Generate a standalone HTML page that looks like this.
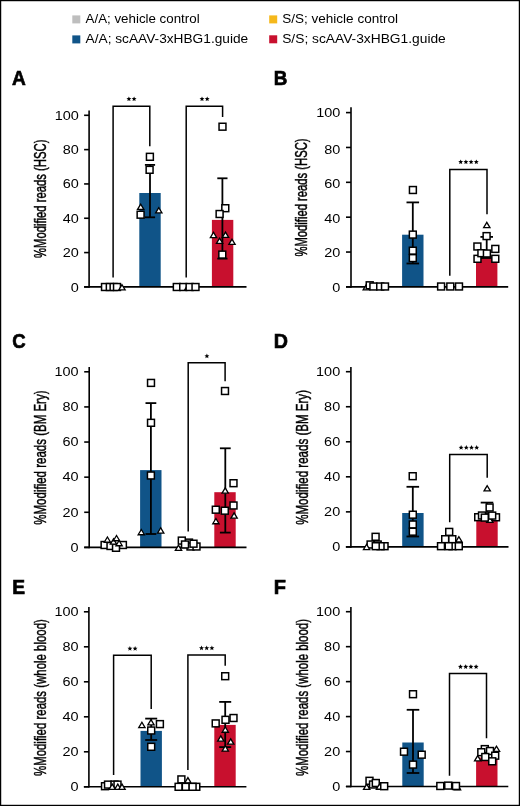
<!DOCTYPE html>
<html><head><meta charset="utf-8"><style>
html,body{margin:0;padding:0;background:#fff;}
#wrap{position:relative;width:520px;height:806px;overflow:hidden;background:#fff;}
#wrap svg{position:absolute;left:0;top:0;will-change:transform;}
</style></head><body><div id="wrap">
<svg width="520" height="806" viewBox="0 0 520 806">
<text x="12" y="84.8" font-family='"Liberation Sans", sans-serif' font-weight="bold" font-size="21" stroke="#000" stroke-width="0.7" textLength="13.8" lengthAdjust="spacingAndGlyphs">A</text>
<text transform="translate(45.9,258) rotate(-90)" font-family='"Liberation Sans", sans-serif' font-size="15.6" stroke="#000" stroke-width="0.45" style="font-variant-ligatures:none" textLength="118.4" lengthAdjust="spacingAndGlyphs">%Modified reads (HSC)</text>
<line x1="84.1" y1="286.9" x2="89.1" y2="286.9" stroke="#000" stroke-width="1.6"/>
<text x="70.75" y="291.55" font-family='"Liberation Sans", sans-serif' font-size="13.4" textLength="8.05" lengthAdjust="spacingAndGlyphs">0</text>
<line x1="84.1" y1="252.58" x2="89.1" y2="252.58" stroke="#000" stroke-width="1.6"/>
<text x="62.71" y="257.35" font-family='"Liberation Sans", sans-serif' font-size="13.4" textLength="16.09" lengthAdjust="spacingAndGlyphs">20</text>
<line x1="84.1" y1="218.26" x2="89.1" y2="218.26" stroke="#000" stroke-width="1.6"/>
<text x="62.71" y="222.95" font-family='"Liberation Sans", sans-serif' font-size="13.4" textLength="16.09" lengthAdjust="spacingAndGlyphs">40</text>
<line x1="84.1" y1="183.94" x2="89.1" y2="183.94" stroke="#000" stroke-width="1.6"/>
<text x="62.71" y="188.35" font-family='"Liberation Sans", sans-serif' font-size="13.4" textLength="16.09" lengthAdjust="spacingAndGlyphs">60</text>
<line x1="84.1" y1="149.62" x2="89.1" y2="149.62" stroke="#000" stroke-width="1.6"/>
<text x="62.71" y="154.15" font-family='"Liberation Sans", sans-serif' font-size="13.4" textLength="16.09" lengthAdjust="spacingAndGlyphs">80</text>
<line x1="84.1" y1="115.3" x2="89.1" y2="115.3" stroke="#000" stroke-width="1.6"/>
<text x="54.66" y="119.55" font-family='"Liberation Sans", sans-serif' font-size="13.4" textLength="24.14" lengthAdjust="spacingAndGlyphs">100</text>
<rect x="139.3" y="193" width="21.4" height="93.9" fill="#105488"/>
<rect x="211.9" y="219.9" width="21.4" height="67" fill="#C8102E"/>
<line x1="89.1" y1="110.4" x2="89.1" y2="287.7" stroke="#000" stroke-width="1.6"/>
<line x1="84.1" y1="286.9" x2="246.5" y2="286.9" stroke="#000" stroke-width="1.6"/>
<polyline points="113.1,277.5 113.1,106.2 149.8,106.2 149.8,146.2" fill="none" stroke="#000" stroke-width="1.5" stroke-linejoin="miter" stroke-linecap="butt"/>
<polygon points="128.9,96.4 129.59,98.05 131.37,98.2 130.01,99.36 130.43,101.1 128.9,100.17 127.37,101.1 127.79,99.36 126.43,98.2 128.21,98.05" fill="#000"/><polygon points="134.1,96.4 134.79,98.05 136.57,98.2 135.21,99.36 135.63,101.1 134.1,100.17 132.57,101.1 132.99,99.36 131.63,98.2 133.41,98.05" fill="#000"/>
<polyline points="186.2,277.5 186.2,106.2 222.6,106.2 222.6,116.9" fill="none" stroke="#000" stroke-width="1.5" stroke-linejoin="miter" stroke-linecap="butt"/>
<polygon points="202,96.4 202.69,98.05 204.47,98.2 203.11,99.36 203.53,101.1 202,100.17 200.47,101.1 200.89,99.36 199.53,98.2 201.31,98.05" fill="#000"/><polygon points="207.2,96.4 207.89,98.05 209.67,98.2 208.31,99.36 208.73,101.1 207.2,100.17 205.67,101.1 206.09,99.36 204.73,98.2 206.51,98.05" fill="#000"/>
<line x1="150" y1="164.9" x2="150" y2="217.3" stroke="#000" stroke-width="1.8"/>
<line x1="144.9" y1="164.9" x2="155.1" y2="164.9" stroke="#000" stroke-width="1.8"/>
<line x1="144.9" y1="217.3" x2="155.1" y2="217.3" stroke="#000" stroke-width="1.8"/>
<line x1="222.4" y1="178.3" x2="222.4" y2="258.6" stroke="#000" stroke-width="1.8"/>
<line x1="217.3" y1="178.3" x2="227.5" y2="178.3" stroke="#000" stroke-width="1.8"/>
<line x1="217.3" y1="258.6" x2="227.5" y2="258.6" stroke="#000" stroke-width="1.8"/>
<rect x="101.55" y="283.55" width="6.9" height="6.9" fill="#fff" stroke="#000" stroke-width="1.5"/>
<polygon points="113.5,284.69 110.35,289.95 116.65,289.95" fill="#fff" stroke="#000" stroke-width="1.3" stroke-linejoin="miter"/>
<rect x="106.35" y="283.55" width="6.9" height="6.9" fill="#fff" stroke="#000" stroke-width="1.5"/>
<polygon points="116.5,284.69 113.35,289.95 119.65,289.95" fill="#fff" stroke="#000" stroke-width="1.3" stroke-linejoin="miter"/>
<rect x="110.15" y="283.55" width="6.9" height="6.9" fill="#fff" stroke="#000" stroke-width="1.5"/>
<rect x="113.55" y="283.55" width="6.9" height="6.9" fill="#fff" stroke="#000" stroke-width="1.5"/>
<polygon points="122,284.69 118.85,289.95 125.15,289.95" fill="#fff" stroke="#000" stroke-width="1.3" stroke-linejoin="miter"/>
<rect x="146.45" y="153.35" width="6.9" height="6.9" fill="#fff" stroke="#000" stroke-width="1.5"/>
<rect x="146.15" y="166.35" width="6.9" height="6.9" fill="#fff" stroke="#000" stroke-width="1.5"/>
<polygon points="140.7,204.19 137.55,209.45 143.85,209.45" fill="#fff" stroke="#000" stroke-width="1.3" stroke-linejoin="miter"/>
<rect x="137.15" y="211.25" width="6.9" height="6.9" fill="#fff" stroke="#000" stroke-width="1.5"/>
<polygon points="158.8,207.69 155.65,212.95 161.95,212.95" fill="#fff" stroke="#000" stroke-width="1.3" stroke-linejoin="miter"/>
<rect x="173.35" y="283.55" width="6.9" height="6.9" fill="#fff" stroke="#000" stroke-width="1.5"/>
<rect x="179.75" y="283.55" width="6.9" height="6.9" fill="#fff" stroke="#000" stroke-width="1.5"/>
<polygon points="188,284.29 184.85,289.55 191.15,289.55" fill="#fff" stroke="#000" stroke-width="1.3" stroke-linejoin="miter"/>
<rect x="186.15" y="283.55" width="6.9" height="6.9" fill="#fff" stroke="#000" stroke-width="1.5"/>
<rect x="192.05" y="283.55" width="6.9" height="6.9" fill="#fff" stroke="#000" stroke-width="1.5"/>
<rect x="219.05" y="123.25" width="6.9" height="6.9" fill="#fff" stroke="#000" stroke-width="1.5"/>
<rect x="221.85" y="204.75" width="6.9" height="6.9" fill="#fff" stroke="#000" stroke-width="1.5"/>
<rect x="216.15" y="210.55" width="6.9" height="6.9" fill="#fff" stroke="#000" stroke-width="1.5"/>
<polygon points="213.5,232.29 210.35,237.55 216.65,237.55" fill="#fff" stroke="#000" stroke-width="1.3" stroke-linejoin="miter"/>
<polygon points="225.5,232.09 222.35,237.35 228.65,237.35" fill="#fff" stroke="#000" stroke-width="1.3" stroke-linejoin="miter"/>
<polygon points="219.6,238.19 216.45,243.45 222.75,243.45" fill="#fff" stroke="#000" stroke-width="1.3" stroke-linejoin="miter"/>
<polygon points="232,239.19 228.85,244.45 235.15,244.45" fill="#fff" stroke="#000" stroke-width="1.3" stroke-linejoin="miter"/>
<rect x="218.85" y="251.15" width="6.9" height="6.9" fill="#fff" stroke="#000" stroke-width="1.5"/>
<text x="273.8" y="84.5" font-family='"Liberation Sans", sans-serif' font-weight="bold" font-size="21" stroke="#000" stroke-width="0.7" textLength="13.6" lengthAdjust="spacingAndGlyphs">B</text>
<text transform="translate(306.8,256.6) rotate(-90)" font-family='"Liberation Sans", sans-serif' font-size="15.6" stroke="#000" stroke-width="0.45" style="font-variant-ligatures:none" textLength="118.2" lengthAdjust="spacingAndGlyphs">%Modified reads (HSC)</text>
<line x1="346" y1="286.9" x2="351" y2="286.9" stroke="#000" stroke-width="1.6"/>
<text x="332.35" y="291.55" font-family='"Liberation Sans", sans-serif' font-size="13.4" textLength="8.05" lengthAdjust="spacingAndGlyphs">0</text>
<line x1="346" y1="252.04" x2="351" y2="252.04" stroke="#000" stroke-width="1.6"/>
<text x="324.31" y="257.25" font-family='"Liberation Sans", sans-serif' font-size="13.4" textLength="16.09" lengthAdjust="spacingAndGlyphs">20</text>
<line x1="346" y1="217.18" x2="351" y2="217.18" stroke="#000" stroke-width="1.6"/>
<text x="324.31" y="222.5" font-family='"Liberation Sans", sans-serif' font-size="13.4" textLength="16.09" lengthAdjust="spacingAndGlyphs">40</text>
<line x1="346" y1="182.32" x2="351" y2="182.32" stroke="#000" stroke-width="1.6"/>
<text x="324.31" y="188.35" font-family='"Liberation Sans", sans-serif' font-size="13.4" textLength="16.09" lengthAdjust="spacingAndGlyphs">60</text>
<line x1="346" y1="147.46" x2="351" y2="147.46" stroke="#000" stroke-width="1.6"/>
<text x="324.31" y="154.15" font-family='"Liberation Sans", sans-serif' font-size="13.4" textLength="16.09" lengthAdjust="spacingAndGlyphs">80</text>
<line x1="346" y1="112.6" x2="351" y2="112.6" stroke="#000" stroke-width="1.6"/>
<text x="316.26" y="116.55" font-family='"Liberation Sans", sans-serif' font-size="13.4" textLength="24.14" lengthAdjust="spacingAndGlyphs">100</text>
<rect x="402.1" y="234.7" width="21.4" height="52.2" fill="#105488"/>
<rect x="476" y="256" width="21.4" height="30.9" fill="#C8102E"/>
<line x1="351" y1="107.3" x2="351" y2="287.7" stroke="#000" stroke-width="1.6"/>
<line x1="346" y1="286.9" x2="508.2" y2="286.9" stroke="#000" stroke-width="1.6"/>
<polyline points="449.8,275.7 449.8,169.6 487,169.6 487,214.2" fill="none" stroke="#000" stroke-width="1.5" stroke-linejoin="miter" stroke-linecap="butt"/>
<polygon points="460.7,159.4 461.39,161.05 463.17,161.2 461.81,162.36 462.23,164.1 460.7,163.17 459.17,164.1 459.59,162.36 458.23,161.2 460.01,161.05" fill="#000"/><polygon points="465.9,159.4 466.59,161.05 468.37,161.2 467.01,162.36 467.43,164.1 465.9,163.17 464.37,164.1 464.79,162.36 463.43,161.2 465.21,161.05" fill="#000"/><polygon points="471.1,159.4 471.79,161.05 473.57,161.2 472.21,162.36 472.63,164.1 471.1,163.17 469.57,164.1 469.99,162.36 468.63,161.2 470.41,161.05" fill="#000"/><polygon points="476.3,159.4 476.99,161.05 478.77,161.2 477.41,162.36 477.83,164.1 476.3,163.17 474.77,164.1 475.19,162.36 473.83,161.2 475.61,161.05" fill="#000"/>
<line x1="412.8" y1="202.4" x2="412.8" y2="263.5" stroke="#000" stroke-width="1.8"/>
<line x1="406.5" y1="202.4" x2="419.1" y2="202.4" stroke="#000" stroke-width="1.8"/>
<line x1="406.5" y1="263.5" x2="419.1" y2="263.5" stroke="#000" stroke-width="1.8"/>
<line x1="486.7" y1="236.9" x2="486.7" y2="258" stroke="#000" stroke-width="1.8"/>
<line x1="480.4" y1="236.9" x2="493" y2="236.9" stroke="#000" stroke-width="1.8"/>
<line x1="480.4" y1="258" x2="493" y2="258" stroke="#000" stroke-width="1.8"/>
<polygon points="366.3,284.59 363.15,289.85 369.45,289.85" fill="#fff" stroke="#000" stroke-width="1.3" stroke-linejoin="miter"/>
<rect x="366.25" y="281.85" width="6.9" height="6.9" fill="#fff" stroke="#000" stroke-width="1.5"/>
<rect x="369.95" y="283.05" width="6.9" height="6.9" fill="#fff" stroke="#000" stroke-width="1.5"/>
<rect x="376.75" y="283.05" width="6.9" height="6.9" fill="#fff" stroke="#000" stroke-width="1.5"/>
<rect x="381.55" y="283.05" width="6.9" height="6.9" fill="#fff" stroke="#000" stroke-width="1.5"/>
<rect x="409.45" y="186.55" width="6.9" height="6.9" fill="#fff" stroke="#000" stroke-width="1.5"/>
<rect x="409.35" y="231.15" width="6.9" height="6.9" fill="#fff" stroke="#000" stroke-width="1.5"/>
<rect x="409.35" y="247.25" width="6.9" height="6.9" fill="#fff" stroke="#000" stroke-width="1.5"/>
<rect x="409.35" y="254.65" width="6.9" height="6.9" fill="#fff" stroke="#000" stroke-width="1.5"/>
<rect x="437.65" y="283.05" width="6.9" height="6.9" fill="#fff" stroke="#000" stroke-width="1.5"/>
<rect x="446.85" y="283.05" width="6.9" height="6.9" fill="#fff" stroke="#000" stroke-width="1.5"/>
<rect x="455.55" y="283.05" width="6.9" height="6.9" fill="#fff" stroke="#000" stroke-width="1.5"/>
<polygon points="486.8,222.39 483.65,227.65 489.95,227.65" fill="#fff" stroke="#000" stroke-width="1.3" stroke-linejoin="miter"/>
<rect x="483.15" y="232.65" width="6.9" height="6.9" fill="#fff" stroke="#000" stroke-width="1.5"/>
<rect x="473.95" y="243.05" width="6.9" height="6.9" fill="#fff" stroke="#000" stroke-width="1.5"/>
<rect x="491.85" y="245.45" width="6.9" height="6.9" fill="#fff" stroke="#000" stroke-width="1.5"/>
<rect x="474.05" y="255.35" width="6.9" height="6.9" fill="#fff" stroke="#000" stroke-width="1.5"/>
<rect x="491.85" y="255.35" width="6.9" height="6.9" fill="#fff" stroke="#000" stroke-width="1.5"/>
<rect x="477.95" y="249.75" width="6.9" height="6.9" fill="#fff" stroke="#000" stroke-width="1.5"/>
<rect x="483.45" y="250.05" width="6.9" height="6.9" fill="#fff" stroke="#000" stroke-width="1.5"/>
<text x="12.2" y="347.5" font-family='"Liberation Sans", sans-serif' font-weight="bold" font-size="21" stroke="#000" stroke-width="0.7" textLength="13.4" lengthAdjust="spacingAndGlyphs">C</text>
<text transform="translate(46,524.7) rotate(-90)" font-family='"Liberation Sans", sans-serif' font-size="15.6" stroke="#000" stroke-width="0.45" style="font-variant-ligatures:none" textLength="134.2" lengthAdjust="spacingAndGlyphs">%Modified reads (BM Ery)</text>
<line x1="84.2" y1="547.4" x2="89.2" y2="547.4" stroke="#000" stroke-width="1.6"/>
<text x="70.55" y="551.7" font-family='"Liberation Sans", sans-serif' font-size="13.4" textLength="8.05" lengthAdjust="spacingAndGlyphs">0</text>
<line x1="84.2" y1="512.28" x2="89.2" y2="512.28" stroke="#000" stroke-width="1.6"/>
<text x="62.51" y="516.58" font-family='"Liberation Sans", sans-serif' font-size="13.4" textLength="16.09" lengthAdjust="spacingAndGlyphs">20</text>
<line x1="84.2" y1="477.16" x2="89.2" y2="477.16" stroke="#000" stroke-width="1.6"/>
<text x="62.51" y="481.46" font-family='"Liberation Sans", sans-serif' font-size="13.4" textLength="16.09" lengthAdjust="spacingAndGlyphs">40</text>
<line x1="84.2" y1="442.04" x2="89.2" y2="442.04" stroke="#000" stroke-width="1.6"/>
<text x="62.51" y="446.34" font-family='"Liberation Sans", sans-serif' font-size="13.4" textLength="16.09" lengthAdjust="spacingAndGlyphs">60</text>
<line x1="84.2" y1="406.92" x2="89.2" y2="406.92" stroke="#000" stroke-width="1.6"/>
<text x="62.51" y="411.22" font-family='"Liberation Sans", sans-serif' font-size="13.4" textLength="16.09" lengthAdjust="spacingAndGlyphs">80</text>
<line x1="84.2" y1="371.8" x2="89.2" y2="371.8" stroke="#000" stroke-width="1.6"/>
<text x="54.46" y="376.1" font-family='"Liberation Sans", sans-serif' font-size="13.4" textLength="24.14" lengthAdjust="spacingAndGlyphs">100</text>
<rect x="140.1" y="470.1" width="21.4" height="77.3" fill="#105488"/>
<rect x="214.3" y="492.2" width="21.4" height="55.2" fill="#C8102E"/>
<line x1="89.2" y1="366.9" x2="89.2" y2="548.2" stroke="#000" stroke-width="1.6"/>
<line x1="84.2" y1="547.4" x2="246.5" y2="547.4" stroke="#000" stroke-width="1.6"/>
<polyline points="188.2,531.5 188.2,362.8 225.1,362.8 225.1,381.2" fill="none" stroke="#000" stroke-width="1.5" stroke-linejoin="miter" stroke-linecap="butt"/>
<polygon points="206.9,353.6 207.59,355.25 209.37,355.4 208.01,356.56 208.43,358.3 206.9,357.37 205.37,358.3 205.79,356.56 204.43,355.4 206.21,355.25" fill="#000"/>
<line x1="150.9" y1="403.1" x2="150.9" y2="534" stroke="#000" stroke-width="1.8"/>
<line x1="145.5" y1="403.1" x2="156.3" y2="403.1" stroke="#000" stroke-width="1.8"/>
<line x1="145.5" y1="534" x2="156.3" y2="534" stroke="#000" stroke-width="1.8"/>
<line x1="225.3" y1="448.3" x2="225.3" y2="532.6" stroke="#000" stroke-width="1.8"/>
<line x1="219.9" y1="448.3" x2="230.7" y2="448.3" stroke="#000" stroke-width="1.8"/>
<line x1="219.9" y1="532.6" x2="230.7" y2="532.6" stroke="#000" stroke-width="1.8"/>
<rect x="101.15" y="541.55" width="6.9" height="6.9" fill="#fff" stroke="#000" stroke-width="1.5"/>
<rect x="107.05" y="542.55" width="6.9" height="6.9" fill="#fff" stroke="#000" stroke-width="1.5"/>
<rect x="119.45" y="541.55" width="6.9" height="6.9" fill="#fff" stroke="#000" stroke-width="1.5"/>
<rect x="112.55" y="544.35" width="6.9" height="6.9" fill="#fff" stroke="#000" stroke-width="1.5"/>
<polygon points="107.4,536.99 104.25,542.25 110.55,542.25" fill="#fff" stroke="#000" stroke-width="1.3" stroke-linejoin="miter"/>
<polygon points="113.5,538.89 110.35,544.15 116.65,544.15" fill="#fff" stroke="#000" stroke-width="1.3" stroke-linejoin="miter"/>
<polygon points="116.5,535.49 113.35,540.75 119.65,540.75" fill="#fff" stroke="#000" stroke-width="1.3" stroke-linejoin="miter"/>
<polygon points="119.1,540.49 115.95,545.75 122.25,545.75" fill="#fff" stroke="#000" stroke-width="1.3" stroke-linejoin="miter"/>
<rect x="147.55" y="379.45" width="6.9" height="6.9" fill="#fff" stroke="#000" stroke-width="1.5"/>
<rect x="147.55" y="419.35" width="6.9" height="6.9" fill="#fff" stroke="#000" stroke-width="1.5"/>
<rect x="147.45" y="472.05" width="6.9" height="6.9" fill="#fff" stroke="#000" stroke-width="1.5"/>
<polygon points="141.3,529.49 138.15,534.75 144.45,534.75" fill="#fff" stroke="#000" stroke-width="1.3" stroke-linejoin="miter"/>
<polygon points="160.7,527.79 157.55,533.05 163.85,533.05" fill="#fff" stroke="#000" stroke-width="1.3" stroke-linejoin="miter"/>
<rect x="185.55" y="539.15" width="6.9" height="6.9" fill="#fff" stroke="#000" stroke-width="1.5"/>
<rect x="187.05" y="543.05" width="6.9" height="6.9" fill="#fff" stroke="#000" stroke-width="1.5"/>
<rect x="193.05" y="543.05" width="6.9" height="6.9" fill="#fff" stroke="#000" stroke-width="1.5"/>
<rect x="178.35" y="537.15" width="6.9" height="6.9" fill="#fff" stroke="#000" stroke-width="1.5"/>
<polygon points="178.5,545.19 175.35,550.45 181.65,550.45" fill="#fff" stroke="#000" stroke-width="1.3" stroke-linejoin="miter"/>
<rect x="181.55" y="541.05" width="6.9" height="6.9" fill="#fff" stroke="#000" stroke-width="1.5"/>
<rect x="190.05" y="540.25" width="6.9" height="6.9" fill="#fff" stroke="#000" stroke-width="1.5"/>
<rect x="221.55" y="387.55" width="6.9" height="6.9" fill="#fff" stroke="#000" stroke-width="1.5"/>
<rect x="230.05" y="479.75" width="6.9" height="6.9" fill="#fff" stroke="#000" stroke-width="1.5"/>
<polygon points="225.2,487.89 222.05,493.15 228.35,493.15" fill="#fff" stroke="#000" stroke-width="1.3" stroke-linejoin="miter"/>
<rect x="212.35" y="506.25" width="6.9" height="6.9" fill="#fff" stroke="#000" stroke-width="1.5"/>
<rect x="221.35" y="507.25" width="6.9" height="6.9" fill="#fff" stroke="#000" stroke-width="1.5"/>
<rect x="230.05" y="502.05" width="6.9" height="6.9" fill="#fff" stroke="#000" stroke-width="1.5"/>
<polygon points="215.9,518.49 212.75,523.75 219.05,523.75" fill="#fff" stroke="#000" stroke-width="1.3" stroke-linejoin="miter"/>
<polygon points="234.1,512.89 230.95,518.15 237.25,518.15" fill="#fff" stroke="#000" stroke-width="1.3" stroke-linejoin="miter"/>
<text x="273.8" y="347.5" font-family='"Liberation Sans", sans-serif' font-weight="bold" font-size="21" stroke="#000" stroke-width="0.7" textLength="14.2" lengthAdjust="spacingAndGlyphs">D</text>
<text transform="translate(307.6,524.8) rotate(-90)" font-family='"Liberation Sans", sans-serif' font-size="15.6" stroke="#000" stroke-width="0.45" style="font-variant-ligatures:none" textLength="134.8" lengthAdjust="spacingAndGlyphs">%Modified reads (BM Ery)</text>
<line x1="345.9" y1="546.9" x2="350.9" y2="546.9" stroke="#000" stroke-width="1.6"/>
<text x="332.15" y="551.2" font-family='"Liberation Sans", sans-serif' font-size="13.4" textLength="8.05" lengthAdjust="spacingAndGlyphs">0</text>
<line x1="345.9" y1="511.86" x2="350.9" y2="511.86" stroke="#000" stroke-width="1.6"/>
<text x="324.11" y="516.16" font-family='"Liberation Sans", sans-serif' font-size="13.4" textLength="16.09" lengthAdjust="spacingAndGlyphs">20</text>
<line x1="345.9" y1="476.82" x2="350.9" y2="476.82" stroke="#000" stroke-width="1.6"/>
<text x="324.11" y="481.12" font-family='"Liberation Sans", sans-serif' font-size="13.4" textLength="16.09" lengthAdjust="spacingAndGlyphs">40</text>
<line x1="345.9" y1="441.78" x2="350.9" y2="441.78" stroke="#000" stroke-width="1.6"/>
<text x="324.11" y="446.08" font-family='"Liberation Sans", sans-serif' font-size="13.4" textLength="16.09" lengthAdjust="spacingAndGlyphs">60</text>
<line x1="345.9" y1="406.74" x2="350.9" y2="406.74" stroke="#000" stroke-width="1.6"/>
<text x="324.11" y="411.04" font-family='"Liberation Sans", sans-serif' font-size="13.4" textLength="16.09" lengthAdjust="spacingAndGlyphs">80</text>
<line x1="345.9" y1="371.7" x2="350.9" y2="371.7" stroke="#000" stroke-width="1.6"/>
<text x="316.06" y="376" font-family='"Liberation Sans", sans-serif' font-size="13.4" textLength="24.14" lengthAdjust="spacingAndGlyphs">100</text>
<rect x="402.2" y="513" width="21.4" height="33.9" fill="#105488"/>
<rect x="476.3" y="515" width="21.4" height="31.9" fill="#C8102E"/>
<line x1="350.9" y1="366.9" x2="350.9" y2="547.7" stroke="#000" stroke-width="1.6"/>
<line x1="345.9" y1="546.9" x2="508.5" y2="546.9" stroke="#000" stroke-width="1.6"/>
<polyline points="449.7,522.3 449.7,454.6 487.2,454.6 487.2,477.7" fill="none" stroke="#000" stroke-width="1.5" stroke-linejoin="miter" stroke-linecap="butt"/>
<polygon points="461.1,445.1 461.79,446.75 463.57,446.9 462.21,448.06 462.63,449.8 461.1,448.87 459.57,449.8 459.99,448.06 458.63,446.9 460.41,446.75" fill="#000"/><polygon points="466.3,445.1 466.99,446.75 468.77,446.9 467.41,448.06 467.83,449.8 466.3,448.87 464.77,449.8 465.19,448.06 463.83,446.9 465.61,446.75" fill="#000"/><polygon points="471.5,445.1 472.19,446.75 473.97,446.9 472.61,448.06 473.03,449.8 471.5,448.87 469.97,449.8 470.39,448.06 469.03,446.9 470.81,446.75" fill="#000"/><polygon points="476.7,445.1 477.39,446.75 479.17,446.9 477.81,448.06 478.23,449.8 476.7,448.87 475.17,449.8 475.59,448.06 474.23,446.9 476.01,446.75" fill="#000"/>
<line x1="412.8" y1="486.8" x2="412.8" y2="536.5" stroke="#000" stroke-width="1.8"/>
<line x1="406.5" y1="486.8" x2="419.1" y2="486.8" stroke="#000" stroke-width="1.8"/>
<line x1="406.5" y1="536.5" x2="419.1" y2="536.5" stroke="#000" stroke-width="1.8"/>
<line x1="487" y1="502.6" x2="487" y2="520" stroke="#000" stroke-width="1.8"/>
<line x1="480.7" y1="502.6" x2="493.3" y2="502.6" stroke="#000" stroke-width="1.8"/>
<line x1="480.7" y1="520" x2="493.3" y2="520" stroke="#000" stroke-width="1.8"/>
<rect x="372.15" y="533.35" width="6.9" height="6.9" fill="#fff" stroke="#000" stroke-width="1.5"/>
<rect x="367.15" y="541.05" width="6.9" height="6.9" fill="#fff" stroke="#000" stroke-width="1.5"/>
<rect x="374.25" y="541.05" width="6.9" height="6.9" fill="#fff" stroke="#000" stroke-width="1.5"/>
<polygon points="366.6,544.29 363.45,549.55 369.75,549.55" fill="#fff" stroke="#000" stroke-width="1.3" stroke-linejoin="miter"/>
<rect x="381.1" y="542.75" width="6.9" height="6.9" fill="#fff" stroke="#000" stroke-width="1.5"/>
<rect x="377.1" y="542.75" width="6.9" height="6.9" fill="#fff" stroke="#000" stroke-width="1.5"/>
<rect x="372.3" y="542.75" width="6.9" height="6.9" fill="#fff" stroke="#000" stroke-width="1.5"/>
<rect x="409.25" y="472.75" width="6.9" height="6.9" fill="#fff" stroke="#000" stroke-width="1.5"/>
<rect x="409.35" y="511.25" width="6.9" height="6.9" fill="#fff" stroke="#000" stroke-width="1.5"/>
<rect x="409.35" y="521.05" width="6.9" height="6.9" fill="#fff" stroke="#000" stroke-width="1.5"/>
<rect x="409.35" y="528.25" width="6.9" height="6.9" fill="#fff" stroke="#000" stroke-width="1.5"/>
<rect x="445.75" y="528.45" width="6.9" height="6.9" fill="#fff" stroke="#000" stroke-width="1.5"/>
<rect x="441.75" y="535.75" width="6.9" height="6.9" fill="#fff" stroke="#000" stroke-width="1.5"/>
<rect x="448.85" y="535.75" width="6.9" height="6.9" fill="#fff" stroke="#000" stroke-width="1.5"/>
<polygon points="458.9,536.69 455.75,541.95 462.05,541.95" fill="#fff" stroke="#000" stroke-width="1.3" stroke-linejoin="miter"/>
<rect x="449.05" y="542.75" width="6.9" height="6.9" fill="#fff" stroke="#000" stroke-width="1.5"/>
<rect x="437.55" y="542.75" width="6.9" height="6.9" fill="#fff" stroke="#000" stroke-width="1.5"/>
<rect x="445.25" y="542.75" width="6.9" height="6.9" fill="#fff" stroke="#000" stroke-width="1.5"/>
<rect x="455.35" y="542.75" width="6.9" height="6.9" fill="#fff" stroke="#000" stroke-width="1.5"/>
<polygon points="487.2,485.69 484.05,490.95 490.35,490.95" fill="#fff" stroke="#000" stroke-width="1.3" stroke-linejoin="miter"/>
<rect x="486.15" y="504.05" width="6.9" height="6.9" fill="#fff" stroke="#000" stroke-width="1.5"/>
<rect x="474.75" y="513.75" width="6.9" height="6.9" fill="#fff" stroke="#000" stroke-width="1.5"/>
<rect x="492.55" y="513.85" width="6.9" height="6.9" fill="#fff" stroke="#000" stroke-width="1.5"/>
<rect x="478.55" y="512.05" width="6.9" height="6.9" fill="#fff" stroke="#000" stroke-width="1.5"/>
<polygon points="489.8,517.19 486.65,522.45 492.95,522.45" fill="#fff" stroke="#000" stroke-width="1.3" stroke-linejoin="miter"/>
<rect x="481.35" y="514.15" width="6.9" height="6.9" fill="#fff" stroke="#000" stroke-width="1.5"/>
<rect x="488.75" y="512.15" width="6.9" height="6.9" fill="#fff" stroke="#000" stroke-width="1.5"/>
<text x="12.3" y="593.8" font-family='"Liberation Sans", sans-serif' font-weight="bold" font-size="21" stroke="#000" stroke-width="0.7" textLength="12.8" lengthAdjust="spacingAndGlyphs">E</text>
<text transform="translate(46,776) rotate(-90)" font-family='"Liberation Sans", sans-serif' font-size="15.6" stroke="#000" stroke-width="0.45" style="font-variant-ligatures:none" textLength="156.8" lengthAdjust="spacingAndGlyphs">%Modified reads (whole blood)</text>
<line x1="83.9" y1="786.8" x2="88.9" y2="786.8" stroke="#000" stroke-width="1.6"/>
<text x="70.55" y="791.1" font-family='"Liberation Sans", sans-serif' font-size="13.4" textLength="8.05" lengthAdjust="spacingAndGlyphs">0</text>
<line x1="83.9" y1="751.8" x2="88.9" y2="751.8" stroke="#000" stroke-width="1.6"/>
<text x="62.51" y="756.1" font-family='"Liberation Sans", sans-serif' font-size="13.4" textLength="16.09" lengthAdjust="spacingAndGlyphs">20</text>
<line x1="83.9" y1="716.8" x2="88.9" y2="716.8" stroke="#000" stroke-width="1.6"/>
<text x="62.51" y="721.1" font-family='"Liberation Sans", sans-serif' font-size="13.4" textLength="16.09" lengthAdjust="spacingAndGlyphs">40</text>
<line x1="83.9" y1="681.8" x2="88.9" y2="681.8" stroke="#000" stroke-width="1.6"/>
<text x="62.51" y="686.1" font-family='"Liberation Sans", sans-serif' font-size="13.4" textLength="16.09" lengthAdjust="spacingAndGlyphs">60</text>
<line x1="83.9" y1="646.8" x2="88.9" y2="646.8" stroke="#000" stroke-width="1.6"/>
<text x="62.51" y="651.1" font-family='"Liberation Sans", sans-serif' font-size="13.4" textLength="16.09" lengthAdjust="spacingAndGlyphs">80</text>
<line x1="83.9" y1="611.8" x2="88.9" y2="611.8" stroke="#000" stroke-width="1.6"/>
<text x="54.46" y="616.1" font-family='"Liberation Sans", sans-serif' font-size="13.4" textLength="24.14" lengthAdjust="spacingAndGlyphs">100</text>
<rect x="140.5" y="730.9" width="21.4" height="55.9" fill="#105488"/>
<rect x="214.3" y="724.9" width="21.4" height="61.9" fill="#C8102E"/>
<line x1="88.9" y1="606.9" x2="88.9" y2="787.6" stroke="#000" stroke-width="1.6"/>
<line x1="83.9" y1="786.8" x2="246.4" y2="786.8" stroke="#000" stroke-width="1.6"/>
<polyline points="113.6,775 113.6,655.3 151.2,655.3 151.2,709" fill="none" stroke="#000" stroke-width="1.5" stroke-linejoin="miter" stroke-linecap="butt"/>
<polygon points="129.9,646 130.59,647.65 132.37,647.8 131.01,648.96 131.43,650.7 129.9,649.77 128.37,650.7 128.79,648.96 127.43,647.8 129.21,647.65" fill="#000"/><polygon points="135.1,646 135.79,647.65 137.57,647.8 136.21,648.96 136.63,650.7 135.1,649.77 133.57,650.7 133.99,648.96 132.63,647.8 134.41,647.65" fill="#000"/>
<polyline points="187.9,770 187.9,655 225.2,655 225.2,665.8" fill="none" stroke="#000" stroke-width="1.5" stroke-linejoin="miter" stroke-linecap="butt"/>
<polygon points="201.5,645.5 202.19,647.15 203.97,647.3 202.61,648.46 203.03,650.2 201.5,649.27 199.97,650.2 200.39,648.46 199.03,647.3 200.81,647.15" fill="#000"/><polygon points="206.7,645.5 207.39,647.15 209.17,647.3 207.81,648.46 208.23,650.2 206.7,649.27 205.17,650.2 205.59,648.46 204.23,647.3 206.01,647.15" fill="#000"/><polygon points="211.9,645.5 212.59,647.15 214.37,647.3 213.01,648.46 213.43,650.2 211.9,649.27 210.37,650.2 210.79,648.46 209.43,647.3 211.21,647.15" fill="#000"/>
<line x1="151.2" y1="718.6" x2="151.2" y2="740" stroke="#000" stroke-width="1.8"/>
<line x1="145.2" y1="718.6" x2="157.2" y2="718.6" stroke="#000" stroke-width="1.8"/>
<line x1="145.2" y1="740" x2="157.2" y2="740" stroke="#000" stroke-width="1.8"/>
<line x1="225.2" y1="701.9" x2="225.2" y2="747.1" stroke="#000" stroke-width="1.8"/>
<line x1="219.2" y1="701.9" x2="231.2" y2="701.9" stroke="#000" stroke-width="1.8"/>
<line x1="219.2" y1="747.1" x2="231.2" y2="747.1" stroke="#000" stroke-width="1.8"/>
<rect x="101.55" y="782.75" width="6.9" height="6.9" fill="#fff" stroke="#000" stroke-width="1.5"/>
<rect x="104.55" y="781.15" width="6.9" height="6.9" fill="#fff" stroke="#000" stroke-width="1.5"/>
<rect x="111.05" y="781.15" width="6.9" height="6.9" fill="#fff" stroke="#000" stroke-width="1.5"/>
<rect x="114.05" y="781.15" width="6.9" height="6.9" fill="#fff" stroke="#000" stroke-width="1.5"/>
<polygon points="112.2,784.09 109.05,789.35 115.35,789.35" fill="#fff" stroke="#000" stroke-width="1.3" stroke-linejoin="miter"/>
<polygon points="117.8,784.09 114.65,789.35 120.95,789.35" fill="#fff" stroke="#000" stroke-width="1.3" stroke-linejoin="miter"/>
<polygon points="122,784.09 118.85,789.35 125.15,789.35" fill="#fff" stroke="#000" stroke-width="1.3" stroke-linejoin="miter"/>
<polygon points="141.9,722.29 138.75,727.55 145.05,727.55" fill="#fff" stroke="#000" stroke-width="1.3" stroke-linejoin="miter"/>
<polygon points="151,719.69 147.85,724.95 154.15,724.95" fill="#fff" stroke="#000" stroke-width="1.3" stroke-linejoin="miter"/>
<rect x="156.45" y="720.65" width="6.9" height="6.9" fill="#fff" stroke="#000" stroke-width="1.5"/>
<rect x="147.75" y="727.05" width="6.9" height="6.9" fill="#fff" stroke="#000" stroke-width="1.5"/>
<rect x="147.75" y="743.35" width="6.9" height="6.9" fill="#fff" stroke="#000" stroke-width="1.5"/>
<rect x="177.95" y="775.95" width="6.9" height="6.9" fill="#fff" stroke="#000" stroke-width="1.5"/>
<polygon points="187.9,777.59 184.75,782.85 191.05,782.85" fill="#fff" stroke="#000" stroke-width="1.3" stroke-linejoin="miter"/>
<rect x="175.15" y="783.35" width="6.9" height="6.9" fill="#fff" stroke="#000" stroke-width="1.5"/>
<rect x="182.35" y="783.35" width="6.9" height="6.9" fill="#fff" stroke="#000" stroke-width="1.5"/>
<rect x="192.85" y="783.35" width="6.9" height="6.9" fill="#fff" stroke="#000" stroke-width="1.5"/>
<rect x="189.15" y="783.35" width="6.9" height="6.9" fill="#fff" stroke="#000" stroke-width="1.5"/>
<rect x="221.75" y="672.75" width="6.9" height="6.9" fill="#fff" stroke="#000" stroke-width="1.5"/>
<rect x="212.25" y="719.95" width="6.9" height="6.9" fill="#fff" stroke="#000" stroke-width="1.5"/>
<rect x="222.05" y="716.35" width="6.9" height="6.9" fill="#fff" stroke="#000" stroke-width="1.5"/>
<rect x="230.05" y="714.55" width="6.9" height="6.9" fill="#fff" stroke="#000" stroke-width="1.5"/>
<polygon points="225.3,726.99 222.15,732.25 228.45,732.25" fill="#fff" stroke="#000" stroke-width="1.3" stroke-linejoin="miter"/>
<polygon points="220.8,735.89 217.65,741.15 223.95,741.15" fill="#fff" stroke="#000" stroke-width="1.3" stroke-linejoin="miter"/>
<polygon points="230.7,738.89 227.55,744.15 233.85,744.15" fill="#fff" stroke="#000" stroke-width="1.3" stroke-linejoin="miter"/>
<polygon points="225.3,745.79 222.15,751.05 228.45,751.05" fill="#fff" stroke="#000" stroke-width="1.3" stroke-linejoin="miter"/>
<text x="273.8" y="593.7" font-family='"Liberation Sans", sans-serif' font-weight="bold" font-size="21" stroke="#000" stroke-width="0.7" textLength="12.2" lengthAdjust="spacingAndGlyphs">F</text>
<text transform="translate(307.6,776) rotate(-90)" font-family='"Liberation Sans", sans-serif' font-size="15.6" stroke="#000" stroke-width="0.45" style="font-variant-ligatures:none" textLength="157" lengthAdjust="spacingAndGlyphs">%Modified reads (whole blood)</text>
<line x1="345.9" y1="786.5" x2="350.9" y2="786.5" stroke="#000" stroke-width="1.6"/>
<text x="332.15" y="790.8" font-family='"Liberation Sans", sans-serif' font-size="13.4" textLength="8.05" lengthAdjust="spacingAndGlyphs">0</text>
<line x1="345.9" y1="751.54" x2="350.9" y2="751.54" stroke="#000" stroke-width="1.6"/>
<text x="324.11" y="755.84" font-family='"Liberation Sans", sans-serif' font-size="13.4" textLength="16.09" lengthAdjust="spacingAndGlyphs">20</text>
<line x1="345.9" y1="716.58" x2="350.9" y2="716.58" stroke="#000" stroke-width="1.6"/>
<text x="324.11" y="720.88" font-family='"Liberation Sans", sans-serif' font-size="13.4" textLength="16.09" lengthAdjust="spacingAndGlyphs">40</text>
<line x1="345.9" y1="681.62" x2="350.9" y2="681.62" stroke="#000" stroke-width="1.6"/>
<text x="324.11" y="685.92" font-family='"Liberation Sans", sans-serif' font-size="13.4" textLength="16.09" lengthAdjust="spacingAndGlyphs">60</text>
<line x1="345.9" y1="646.66" x2="350.9" y2="646.66" stroke="#000" stroke-width="1.6"/>
<text x="324.11" y="650.96" font-family='"Liberation Sans", sans-serif' font-size="13.4" textLength="16.09" lengthAdjust="spacingAndGlyphs">80</text>
<line x1="345.9" y1="611.7" x2="350.9" y2="611.7" stroke="#000" stroke-width="1.6"/>
<text x="316.06" y="616" font-family='"Liberation Sans", sans-serif' font-size="13.4" textLength="24.14" lengthAdjust="spacingAndGlyphs">100</text>
<rect x="402.3" y="742.5" width="21.4" height="44" fill="#105488"/>
<rect x="476.1" y="757.5" width="21.4" height="29" fill="#C8102E"/>
<line x1="350.9" y1="606.9" x2="350.9" y2="787.3" stroke="#000" stroke-width="1.6"/>
<line x1="345.9" y1="786.5" x2="508.3" y2="786.5" stroke="#000" stroke-width="1.6"/>
<polyline points="449.5,775.7 449.5,673.6 486.5,673.6 486.5,738.3" fill="none" stroke="#000" stroke-width="1.5" stroke-linejoin="miter" stroke-linecap="butt"/>
<polygon points="460.5,664.2 461.19,665.85 462.97,666 461.61,667.16 462.03,668.9 460.5,667.97 458.97,668.9 459.39,667.16 458.03,666 459.81,665.85" fill="#000"/><polygon points="465.7,664.2 466.39,665.85 468.17,666 466.81,667.16 467.23,668.9 465.7,667.97 464.17,668.9 464.59,667.16 463.23,666 465.01,665.85" fill="#000"/><polygon points="470.9,664.2 471.59,665.85 473.37,666 472.01,667.16 472.43,668.9 470.9,667.97 469.37,668.9 469.79,667.16 468.43,666 470.21,665.85" fill="#000"/><polygon points="476.1,664.2 476.79,665.85 478.57,666 477.21,667.16 477.63,668.9 476.1,667.97 474.57,668.9 474.99,667.16 473.63,666 475.41,665.85" fill="#000"/>
<line x1="413" y1="709.8" x2="413" y2="773" stroke="#000" stroke-width="1.8"/>
<line x1="406.7" y1="709.8" x2="419.3" y2="709.8" stroke="#000" stroke-width="1.8"/>
<line x1="406.7" y1="773" x2="419.3" y2="773" stroke="#000" stroke-width="1.8"/>
<polygon points="366.7,784.19 363.55,789.45 369.85,789.45" fill="#fff" stroke="#000" stroke-width="1.3" stroke-linejoin="miter"/>
<rect x="366.05" y="777.35" width="6.9" height="6.9" fill="#fff" stroke="#000" stroke-width="1.5"/>
<rect x="369.55" y="781.05" width="6.9" height="6.9" fill="#fff" stroke="#000" stroke-width="1.5"/>
<rect x="372.35" y="779.55" width="6.9" height="6.9" fill="#fff" stroke="#000" stroke-width="1.5"/>
<polygon points="379.5,783.99 376.35,789.25 382.65,789.25" fill="#fff" stroke="#000" stroke-width="1.3" stroke-linejoin="miter"/>
<rect x="380.75" y="782.75" width="6.9" height="6.9" fill="#fff" stroke="#000" stroke-width="1.5"/>
<rect x="409.55" y="690.75" width="6.9" height="6.9" fill="#fff" stroke="#000" stroke-width="1.5"/>
<rect x="400.55" y="748.25" width="6.9" height="6.9" fill="#fff" stroke="#000" stroke-width="1.5"/>
<rect x="418.25" y="751.25" width="6.9" height="6.9" fill="#fff" stroke="#000" stroke-width="1.5"/>
<rect x="409.55" y="761.15" width="6.9" height="6.9" fill="#fff" stroke="#000" stroke-width="1.5"/>
<polygon points="457.5,784.49 454.35,789.75 460.65,789.75" fill="#fff" stroke="#000" stroke-width="1.3" stroke-linejoin="miter"/>
<rect x="436.85" y="782.55" width="6.9" height="6.9" fill="#fff" stroke="#000" stroke-width="1.5"/>
<rect x="444.75" y="782.15" width="6.9" height="6.9" fill="#fff" stroke="#000" stroke-width="1.5"/>
<rect x="452.55" y="782.55" width="6.9" height="6.9" fill="#fff" stroke="#000" stroke-width="1.5"/>
<polygon points="496.5,746.19 493.35,751.45 499.65,751.45" fill="#fff" stroke="#000" stroke-width="1.3" stroke-linejoin="miter"/>
<rect x="481.35" y="745.65" width="6.9" height="6.9" fill="#fff" stroke="#000" stroke-width="1.5"/>
<rect x="477.85" y="748.75" width="6.9" height="6.9" fill="#fff" stroke="#000" stroke-width="1.5"/>
<rect x="486.55" y="747.55" width="6.9" height="6.9" fill="#fff" stroke="#000" stroke-width="1.5"/>
<rect x="491.75" y="752.25" width="6.9" height="6.9" fill="#fff" stroke="#000" stroke-width="1.5"/>
<polygon points="477.7,755.69 474.55,760.95 480.85,760.95" fill="#fff" stroke="#000" stroke-width="1.3" stroke-linejoin="miter"/>
<rect x="481.85" y="753.55" width="6.9" height="6.9" fill="#fff" stroke="#000" stroke-width="1.5"/>
<rect x="488.75" y="757.85" width="6.9" height="6.9" fill="#fff" stroke="#000" stroke-width="1.5"/>
<rect x="72.3" y="15.4" width="8" height="8" fill="#BEBEBE"/>
<rect x="72.3" y="35.4" width="8" height="8" fill="#105488"/>
<rect x="269.2" y="15.4" width="8" height="8" fill="#F5B81C"/>
<rect x="269.2" y="35.3" width="8" height="8" fill="#C8102E"/>
<text x="85.6" y="23.2" font-family='"Liberation Sans", sans-serif' font-size="13" textLength="114" lengthAdjust="spacingAndGlyphs">A/A; vehicle control</text>
<text x="85.6" y="42.9" font-family='"Liberation Sans", sans-serif' font-size="13" textLength="162.6" lengthAdjust="spacingAndGlyphs">A/A; scAAV-3xHBG1.guide</text>
<text x="282.2" y="23.2" font-family='"Liberation Sans", sans-serif' font-size="13" textLength="115.8" lengthAdjust="spacingAndGlyphs">S/S; vehicle control</text>
<text x="282.2" y="42.9" font-family='"Liberation Sans", sans-serif' font-size="13" textLength="163.6" lengthAdjust="spacingAndGlyphs">S/S; scAAV-3xHBG1.guide</text>
<rect x="0.6" y="0.6" width="518.8" height="804.8" fill="none" stroke="#000" stroke-width="1.25"/>
</svg></div></body></html>
